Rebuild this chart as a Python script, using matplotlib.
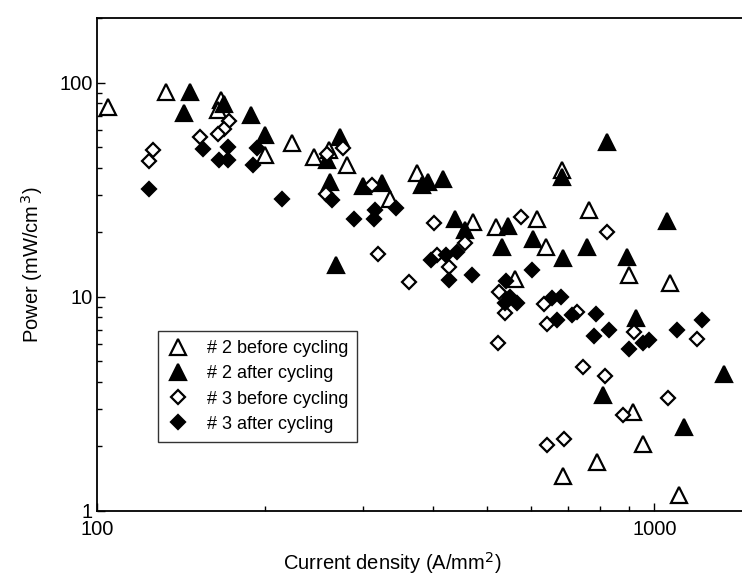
import matplotlib.pyplot as plt
from matplotlib.ticker import LogLocator, NullFormatter, FixedFormatter, FixedLocator

plt.rcParams['font.family'] = ['Liberation Sans', 'DejaVu Sans']

# sample 2, before cycling (open triangles)
s2_before_x = [104.6, 132.8, 166.8, 164.9, 223.4, 200, 244.9, 261, 281, 335.4,
               374.4, 473.2, 519.1, 616.6, 640, 682.1, 764.3, 902, 1067, 914.8,
               953.3, 789, 686.6, 1109, 562.3]
s2_before_y = [77.2, 90.2, 83, 74.5, 52.5, 45.9, 44.8, 48.5, 41.2, 28.5,
               37.7, 22.4, 21.1, 23, 17, 39.1, 25.4, 12.6, 11.55, 2.9,
               2.05, 1.69, 1.46, 1.18, 12.1]

# sample 2, after cycling (filled triangles)
s2_after_x = [146.7, 143, 168.8, 188.8, 200, 272.8, 258.9, 261.7, 268.2, 300.4,
              324.1, 382.3, 392.9, 417, 438.6, 457.1, 532.1, 546.9, 605.7, 684.8,
              682.1, 758.7, 821.4, 895.1, 927.1, 1052.7, 1335.5, 809.9, 1130.9]
s2_after_y = [90.8, 72.4, 79.5, 70.6, 57, 55.9, 43.5, 34.5, 14.1, 32.9,
              34, 33.3, 34.5, 35.4, 23.1, 20.5, 17.1, 21.4, 18.7, 15.1,
              36.4, 17.1, 53, 15.4, 7.97, 22.6, 4.34, 3.47, 2.46]

# sample 3, before cycling (open diamonds)
s3_before_x = [125.9, 123.8, 152.9, 172.4, 169, 164.9, 275.8, 258.8, 257.4, 310.9,
               318.7, 362.8, 402.7, 457.1, 428.5, 406.8, 575.6, 526.2, 539.5, 524.7,
               632.6, 641.1, 726.4, 823.5, 919.4, 1194.8, 745.6, 814.7, 1059.5, 877.6,
               640.5, 687.7]
s3_before_y = [48.5, 43.2, 55.9, 66.4, 60.6, 57.6, 49.7, 46.4, 30.2, 33.4,
               15.8, 11.7, 22.2, 17.8, 13.7, 15.7, 23.7, 10.55, 8.36, 6.06,
               9.25, 7.42, 8.51, 20.1, 6.86, 6.36, 4.69, 4.28, 3.38, 2.8,
               2.03, 2.16]

# sample 3, after cycling (filled diamonds)
s3_after_x = [124, 154.5, 171.5, 165.4, 171.5, 193.9, 190.4, 214.8, 263.5, 289.4,
              315.1, 314.3, 343.1, 397.2, 422.7, 441.7, 427.6, 470.1, 602.5, 541.7,
              550.7, 539.5, 566.2, 654.5, 680, 668, 710.6, 786.8, 778.4, 830.4,
              902, 979.5, 955.7, 1097.3, 1216.6]
s3_after_y = [31.8, 48.8, 49.9, 43.5, 43.5, 49.5, 41.3, 28.5, 28.3, 23.2,
              25.4, 23.2, 26.1, 14.8, 15.7, 16.2, 12, 12.7, 13.3, 11.8,
              10, 9.32, 9.37, 9.83, 10, 7.76, 8.21, 8.3, 6.55, 6.99,
              5.71, 6.3, 6.06, 7.01, 7.78]

fig = plt.figure(figsize=(7.42, 5.83), dpi=100)
ax = fig.add_axes([0.1311, 0.124, 0.8829, 0.8446])

tri = dict(marker='^', markersize=11, markeredgewidth=1.6, linestyle='none',
           markeredgecolor='black')
dia = dict(marker='D', markersize=7.6, markeredgewidth=1.6, linestyle='none',
           markeredgecolor='black')

ax.plot(s2_before_x, s2_before_y, markerfacecolor='white', label='# 2 before cycling', **tri)
ax.plot(s2_after_x, s2_after_y, markerfacecolor='black', label='# 2 after cycling', **tri)
ax.plot(s3_before_x, s3_before_y, markerfacecolor='white', label='# 3 before cycling', **dia)
ax.plot(s3_after_x, s3_after_y, markerfacecolor='black', label='# 3 after cycling', **dia)

ax.set_xscale('log')
ax.set_yscale('log')
ax.set_xlim(100, 1500)
ax.set_ylim(1, 200)

ax.xaxis.set_major_locator(FixedLocator([100, 1000]))
ax.xaxis.set_major_formatter(FixedFormatter(['100', '1000']))
ax.xaxis.set_minor_locator(LogLocator(base=10, subs=range(2, 10)))
ax.xaxis.set_minor_formatter(NullFormatter())
ax.yaxis.set_major_locator(FixedLocator([1, 10, 100]))
ax.yaxis.set_major_formatter(FixedFormatter(['1', '10', '100']))
ax.yaxis.set_minor_locator(LogLocator(base=10, subs=range(2, 10)))
ax.yaxis.set_minor_formatter(NullFormatter())

ax.tick_params(which='both', direction='in', top=False, right=False, labelsize=14.5)
ax.tick_params(which='major', length=6, width=1)
ax.tick_params(which='minor', length=3.5, width=1)
ax.tick_params(axis='x', which='major', pad=7)
for sp in ax.spines.values():
    sp.set_linewidth(1.3)

ax.set_xlabel('Current density (A/mm$^2$)', fontsize=14.5)
ax.xaxis.set_label_coords(0.45, -0.08)
ax.set_ylabel('Power (mW/cm$^{\\,3}$)', fontsize=14.5, labelpad=10)

leg = ax.legend(loc='lower left', bbox_to_anchor=(0.093, 0.14), numpoints=1,
                fontsize=13, frameon=True, fancybox=False, edgecolor='black',
                handlelength=1.2, handletextpad=1.0, labelspacing=0.45,
                borderpad=0.5, borderaxespad=0)
leg.get_frame().set_linewidth(1.0)

fig.savefig('out.png', dpi=100)
